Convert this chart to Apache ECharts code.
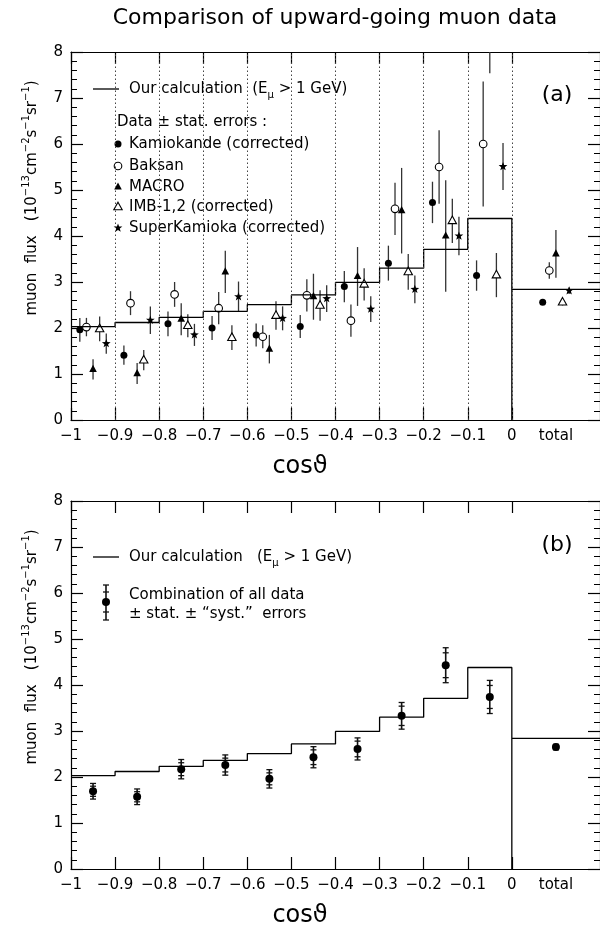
<!DOCTYPE html>
<html>
<head>
<meta charset="utf-8">
<script src="https://cdn.jsdelivr.net/npm/echarts@6/dist/echarts.min.js"></script>
<style>html,body{margin:0;padding:0;background:#fff}#c{width:600px;height:934px}</style>
</head>
<body>
<div id="c"></div>
<script>
// ---------- DATA ----------
const binEdges = [-1, -0.9, -0.8, -0.7, -0.6, -0.5, -0.4, -0.3, -0.2, -0.1, 0];
const binCenters = [-0.95, -0.85, -0.75, -0.65, -0.55, -0.45, -0.35, -0.25, -0.15, -0.05];
const totalPos = 0.1;
const totalEnd = 0.2;
const xTickLabels = [-1, -0.9, -0.8, -0.7, -0.6, -0.5, -0.4, -0.3, -0.2, -0.1, 0, 0.1];
const yTicks = [0, 1, 2, 3, 4, 5, 6, 7, 8];

// calculation (E_mu > 1 GeV), 10 bins + total
const calcValues = [2.03, 2.12, 2.23, 2.36, 2.51, 2.72, 2.99, 3.30, 3.71, 4.38];
const calcTotal = 2.84;

// panel (a): data ± stat errors (10 bins, then total)
const kamiokande = [1.96, 1.41, 2.09, 2.00, 1.85, 2.03, 2.90, 3.41, 4.73, 3.14, 2.56];
const kamiokandeErr = [0.26, 0.21, 0.27, 0.26, 0.25, 0.25, 0.34, 0.38, 0.45, 0.33, 0.06];
const baksan = [2.02, 2.54, 2.73, 2.43, 1.81, 2.71, 2.16, 4.59, 5.50, 6.00, 3.25];
const baksanErr = [0.20, 0.26, 0.27, 0.35, 0.25, 0.35, 0.35, 0.57, 0.80, 1.36, 0.18];
const macro = [1.10, 1.01, 2.19, 3.22, 1.54, 2.68, 3.12, 4.55, 4.00, 9.30, 3.61];
const macroErr = [0.22, 0.23, 0.35, 0.46, 0.31, 0.50, 0.64, 0.93, 1.21, 1.76, 0.52];
const imb = [1.98, 1.30, 2.05, 1.79, 2.27, 2.49, 2.95, 3.22, 4.33, 3.15, 2.56];
const imbErr = [0.27, 0.22, 0.25, 0.27, 0.31, 0.33, 0.35, 0.39, 0.48, 0.48, 0.07];
const superK = [1.66, 2.17, 1.85, 2.68, 2.21, 2.64, 2.41, 2.84, 4.00, 5.51, 2.81];
const superKErr = [0.22, 0.30, 0.24, 0.33, 0.26, 0.29, 0.28, 0.30, 0.42, 0.51, 0.07];

// panel (b): combination of all data ± stat ± "syst" (10 bins, then total)
const combined = [1.69, 1.57, 2.17, 2.26, 1.96, 2.43, 2.61, 3.33, 4.43, 3.74, 2.65];
const combinedStat = [0.11, 0.11, 0.14, 0.15, 0.13, 0.16, 0.17, 0.21, 0.27, 0.25, 0.04];
const combinedTot = [0.17, 0.17, 0.21, 0.22, 0.20, 0.23, 0.24, 0.29, 0.38, 0.36, 0.06];

// ---------- STYLE / LAYOUT ----------
const FONT = 'DejaVu Sans';
const YMAX = 8;
const expOffsets = [-0.03, -0.015, 0, 0.015, 0.03];
const G = [{ left: 71, top: 52, width: 530, height: 368 }, { left: 71, top: 501, width: 530, height: 368 }];

function fmtX(v) {
  if (Math.abs(v - totalPos) < 1e-9) return 'total';
  const r = Math.round(v * 10) / 10;
  if (r === 0) return '0';
  return (r < 0 ? '\u2212' : '') + String(Math.abs(r));
}

function histogramPoints() {
  const pts = [];
  for (let i = 0; i < calcValues.length; i++) {
    pts.push([binEdges[i], calcValues[i]]);
    pts.push([binEdges[i + 1], calcValues[i]]);
  }
  pts.push([0, 0]);
  pts.push([0, calcTotal]);
  pts.push([totalEnd, calcTotal]);
  return pts;
}

function positions() { return binCenters.concat([totalPos]); }

function markerShape(kind, cx, cy) {
  const black = '#000';
  if (kind === 'fcircle') return { type: 'circle', shape: { cx, cy, r: 3.5 }, style: { fill: black } };
  if (kind === 'ocircle') return { type: 'circle', shape: { cx, cy, r: 3.8 }, style: { fill: '#fff', stroke: black, lineWidth: 1.1 } };
  if (kind === 'ftri') return { type: 'polygon', shape: { points: [[cx, cy - 4.6], [cx + 3.8, cy + 2.6], [cx - 3.8, cy + 2.6]] }, style: { fill: black } };
  if (kind === 'otri') return { type: 'polygon', shape: { points: [[cx, cy - 4.8], [cx + 4.2, cy + 2.8], [cx - 4.2, cy + 2.8]] }, style: { fill: '#fff', stroke: black, lineWidth: 1.1 } };
  // star
  const pts = [];
  for (let k = 0; k < 10; k++) {
    const a = -Math.PI / 2 + k * Math.PI / 5;
    const r = k % 2 === 0 ? 4.6 : 1.9;
    pts.push([cx + r * Math.cos(a), cy + r * Math.sin(a)]);
  }
  return { type: 'polygon', shape: { points: pts }, style: { fill: black } };
}

function expSeries(vals, errs, off, kind) {
  const pos = positions();
  const data = vals.map((v, i) => [pos[i] + off, v, errs[i]]);
  return {
    type: 'custom', xAxisIndex: 0, yAxisIndex: 0, data,
    encode: { x: 0, y: 1 },
    renderItem: function (params, api) {
      const x = api.value(0), y = api.value(1), e = api.value(2);
      const top = Math.min(y + e, YMAX), bot = Math.max(y - e, 0);
      const p1 = api.coord([x, top]), p2 = api.coord([x, bot]);
      const ch = [{ type: 'line', shape: { x1: p1[0], y1: p1[1], x2: p2[0], y2: p2[1] }, style: { stroke: '#333', lineWidth: 1.3 } }];
      if (y <= YMAX) { const c = api.coord([x, y]); ch.push(markerShape(kind, c[0], c[1])); }
      return { type: 'group', children: ch };
    }
  };
}

function combSeries() {
  const pos = positions();
  const data = combined.map((v, i) => [pos[i], v, combinedStat[i], combinedTot[i]]);
  return {
    type: 'custom', xAxisIndex: 2, yAxisIndex: 2, data, encode: { x: 0, y: 1 },
    renderItem: function (params, api) {
      const x = api.value(0), y = api.value(1), s = api.value(2), t = api.value(3);
      const c = api.coord([x, y]);
      const pt = api.coord([x, y + t]), pb = api.coord([x, y - t]);
      const st = api.coord([x, y + s]), sb = api.coord([x, y - s]);
      const w = 3;
      const ls = { stroke: '#111', lineWidth: 1.3 };
      const caps = [pt, pb, st, sb].map(p => ({ type: 'line', shape: { x1: p[0] - w, y1: p[1], x2: p[0] + w, y2: p[1] }, style: ls }));
      return {
        type: 'group', children: [
          { type: 'line', shape: { x1: pt[0], y1: pt[1], x2: pb[0], y2: pb[1] }, style: { stroke: '#111', lineWidth: 1.6 } },
          ...caps,
          { type: 'circle', shape: { cx: c[0], cy: c[1], r: 4 }, style: { fill: '#000' } }
        ]
      };
    }
  };
}

function xAxes(gi) {
  const tickVals = binEdges.slice();
  const common = {
    type: 'value', gridIndex: gi, min: -1, max: totalEnd,
    axisLine: { show: true, onZero: false, lineStyle: { color: '#000', width: 1.2 } },
    splitLine: { show: false }
  };
  return [
    Object.assign({}, common, {
      position: 'bottom',
      axisTick: { show: true, inside: true, length: 12, customValues: tickVals, lineStyle: { color: '#000', width: 1.2 } },
      axisLabel: { show: true, customValues: xTickLabels, formatter: fmtX, color: '#000', fontSize: 15, fontFamily: FONT, margin: 9 }
    }),
    Object.assign({}, common, {
      position: 'top',
      axisTick: { show: true, inside: true, length: 12, customValues: tickVals, lineStyle: { color: '#000', width: 1.2 } },
      axisLabel: { show: false }
    })
  ];
}

function yAxes(gi) {
  const common = {
    type: 'value', gridIndex: gi, min: 0, max: YMAX, interval: 1,
    axisLine: { show: true, onZero: false, lineStyle: { color: '#000', width: 1.2 } },
    axisTick: { show: true, inside: true, length: 12, lineStyle: { color: '#000', width: 1.2 } },
    minorTick: { show: true, splitNumber: 5, length: 6, lineStyle: { color: '#000', width: 1 } },
    splitLine: { show: false }, minorSplitLine: { show: false }
  };
  return [
    Object.assign({}, common, { position: 'left', axisLabel: { show: true, color: '#000', fontSize: 15, fontFamily: FONT, margin: 8, formatter: v => String(v) } }),
    Object.assign({}, common, { position: 'right', axisLabel: { show: false } })
  ];
}

function histSeries(xi, withDots) {
  const s = {
    type: 'line', xAxisIndex: xi, yAxisIndex: xi, data: histogramPoints(),
    symbol: 'none', lineStyle: { color: '#000', width: 1.3 }, z: 3, silent: true
  };
  if (withDots) {
    s.markLine = {
      silent: true, symbol: ['none', 'none'], label: { show: false },
      lineStyle: { color: '#444', type: [1.5, 2.5], width: 1 },
      data: binEdges.slice(1).map(v => ({ xAxis: v }))
    };
  }
  return s;
}

// ---------- GRAPHICS (titles, legends, labels) ----------
const txt = (x, y, text, size, extra) => Object.assign({
  type: 'text', x, y,
  style: Object.assign({ text, fontSize: size, fontFamily: FONT, fill: '#000', align: 'left', verticalAlign: 'middle' }, extra || {})
});
const supRich = {
  a: { fontSize: 15, fontFamily: FONT, lineHeight: 22, fill: '#000' },
  s: { fontSize: 10, fontFamily: FONT, lineHeight: 12, verticalAlign: 'top', fill: '#000' }
};
const subRich = {
  t: { fontSize: 15, fontFamily: FONT, lineHeight: 22, fill: '#000' },
  u: { fontSize: 10, fontFamily: FONT, lineHeight: 12, verticalAlign: 'bottom', fill: '#000' }
};
const yLabel = '{a|muon  flux   (10}{s|\u221213}{a|cm}{s|\u22122}{a|s}{s|\u22121}{a|sr}{s|\u22121}{a|)}';
const calcLabel = (gap) => '{t|Our calculation' + gap + '(E}{u|\u03bc}{t| > 1 GeV)}';

const graphics = [
  txt(335, 18, 'Comparison of upward-going muon data', 22, { align: 'center' }),
  // panel a
  { type: 'text', x: 32, y: 198, rotation: Math.PI / 2, style: { text: yLabel, rich: supRich, align: 'center', verticalAlign: 'middle' } },
  txt(300, 467, 'cos\u03d1', 24, { align: 'center' }),
  txt(557, 95, '(a)', 22, { align: 'center' }),
  { type: 'line', shape: { x1: 93, y1: 89, x2: 119, y2: 89 }, style: { stroke: '#000', lineWidth: 1.3 } },
  { type: 'text', x: 129, y: 89, style: { text: calcLabel('  '), rich: subRich, align: 'left', verticalAlign: 'middle' } },
  txt(117, 122, 'Data \u00b1 stat. errors :', 15),
  markerShape('fcircle', 118, 144), txt(129, 144, 'Kamiokande (corrected)', 15),
  markerShape('ocircle', 118, 166), txt(129, 166, 'Baksan', 15),
  markerShape('ftri', 118, 187), txt(129, 187, 'MACRO', 15),
  markerShape('otri', 118, 207), txt(129, 207, 'IMB-1,2 (corrected)', 15),
  markerShape('star', 118, 228), txt(129, 228, 'SuperKamioka (corrected)', 15),
  // panel b
  { type: 'text', x: 32, y: 647, rotation: Math.PI / 2, style: { text: yLabel, rich: supRich, align: 'center', verticalAlign: 'middle' } },
  txt(300, 916, 'cos\u03d1', 24, { align: 'center' }),
  txt(557, 545, '(b)', 22, { align: 'center' }),
  { type: 'line', shape: { x1: 93, y1: 557, x2: 119, y2: 557 }, style: { stroke: '#000', lineWidth: 1.3 } },
  { type: 'text', x: 129, y: 557, style: { text: calcLabel('   '), rich: subRich, align: 'left', verticalAlign: 'middle' } },
  { type: 'line', shape: { x1: 106, y1: 585, x2: 106, y2: 620 }, style: { stroke: '#111', lineWidth: 1.6 } },
  { type: 'line', shape: { x1: 103, y1: 585, x2: 109, y2: 585 }, style: { stroke: '#111', lineWidth: 1.3 } },
  { type: 'line', shape: { x1: 103, y1: 620, x2: 109, y2: 620 }, style: { stroke: '#111', lineWidth: 1.3 } },
  { type: 'line', shape: { x1: 103, y1: 592, x2: 109, y2: 592 }, style: { stroke: '#111', lineWidth: 1.3 } },
  { type: 'line', shape: { x1: 103, y1: 612, x2: 109, y2: 612 }, style: { stroke: '#111', lineWidth: 1.3 } },
  { type: 'circle', shape: { cx: 106, cy: 602, r: 4 }, style: { fill: '#000' } },
  txt(129, 595, 'Combination of all data', 15),
  txt(129, 614, '\u00b1 stat. \u00b1 \u201csyst.\u201d  errors', 15)
];

const chart = echarts.init(document.getElementById('c'), null, { renderer: 'canvas' });
const xa = xAxes(0).concat(xAxes(1));
const ya = yAxes(0).concat(yAxes(1));
// map: index 0 bottom-a, 1 top-a, 2 bottom-b, 3 top-b
chart.setOption({
  animation: false,
  backgroundColor: '#fff',
  grid: G.map(g => Object.assign({ containLabel: false }, g)),
  xAxis: xa,
  yAxis: ya,
  graphic: { elements: graphics },
  series: [
    histSeries(0, true),
    expSeries(kamiokande, kamiokandeErr, expOffsets[0], 'fcircle'),
    expSeries(baksan, baksanErr, expOffsets[1], 'ocircle'),
    expSeries(macro, macroErr, expOffsets[2], 'ftri'),
    expSeries(imb, imbErr, expOffsets[3], 'otri'),
    expSeries(superK, superKErr, expOffsets[4], 'star'),
    histSeries(2, false),
    combSeries()
  ]
});
</script>
</body>
</html>
